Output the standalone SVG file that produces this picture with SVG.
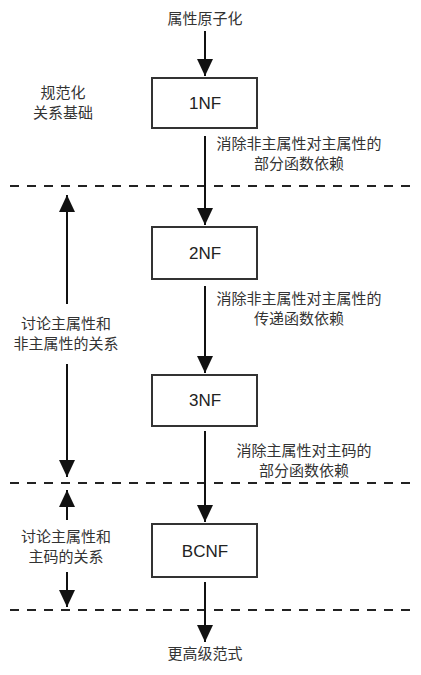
<svg xmlns="http://www.w3.org/2000/svg" width="421" height="675" viewBox="0 0 421 675">
<style>
.t{font-family:"Noto Sans CJK SC","Noto Sans",sans-serif;font-size:15px;fill:#333;text-anchor:middle}
.nf{font-family:"Liberation Sans","DejaVu Sans",sans-serif;font-size:17px;fill:#222;text-anchor:middle}
.box{fill:#fff;stroke:#333;stroke-width:2}
.ln{stroke:#111;stroke-width:2;fill:none}
.dash{stroke:#222;stroke-width:2;stroke-dasharray:9 8;fill:none}
</style>
<defs>
<marker id="ah" markerWidth="18" markerHeight="16" refX="17" refY="8" orient="auto-start-reverse" markerUnits="userSpaceOnUse" viewBox="0 0 18 16">
<path d="M0,0 L17,8 L0,16 Z" fill="#111"/>
</marker>
</defs>
<g id="dashes">
<line class="dash" x1="10" y1="186" x2="412" y2="186"/>
<line class="dash" x1="10" y1="483" x2="412" y2="483"/>
<line class="dash" x1="10" y1="610" x2="412" y2="610"/>
</g>
<g id="connectors">
<line class="ln" x1="205" y1="31" x2="205" y2="76" marker-end="url(#ah)"/>
<line class="ln" x1="205" y1="136" x2="205" y2="225" marker-end="url(#ah)"/>
<line class="ln" x1="205" y1="286" x2="205" y2="373" marker-end="url(#ah)"/>
<line class="ln" x1="205" y1="431" x2="205" y2="522" marker-end="url(#ah)"/>
<line class="ln" x1="205" y1="582" x2="205" y2="642" marker-end="url(#ah)"/>
<line class="ln" x1="67" y1="304" x2="67" y2="195" marker-end="url(#ah)"/>
<line class="ln" x1="67" y1="364" x2="67" y2="477" marker-end="url(#ah)"/>
<line class="ln" x1="67" y1="520" x2="67" y2="490" marker-end="url(#ah)"/>
<line class="ln" x1="67" y1="572" x2="67" y2="607" marker-end="url(#ah)"/>
</g>
<g id="start"><text class="t" x="205" y="24">属性原子化</text></g>
<g id="basis"><text class="t" x="63" y="98">规范化</text><text class="t" x="63" y="118">关系基础</text></g>
<g id="n1"><rect class="box" x="152" y="78" width="105" height="50"/><text class="nf" x="205" y="109">1NF</text></g>
<g id="n2"><rect class="box" x="152" y="227" width="105" height="52"/><text class="nf" x="205" y="259">2NF</text></g>
<g id="n3"><rect class="box" x="152" y="375" width="105" height="51"/><text class="nf" x="205" y="406">3NF</text></g>
<g id="n4"><rect class="box" x="152" y="524" width="105" height="53"/><text class="nf" x="205" y="557">BCNF</text></g>
<g id="end"><text class="t" x="205" y="659">更高级范式</text></g>
<g id="l1"><text class="t" x="299" y="149">消除非主属性对主属性的</text><text class="t" x="299" y="169">部分函数依赖</text></g>
<g id="l2"><text class="t" x="299" y="304">消除非主属性对主属性的</text><text class="t" x="299" y="324">传递函数依赖</text></g>
<g id="l3"><text class="t" x="304" y="456">消除主属性对主码的</text><text class="t" x="304" y="476">部分函数依赖</text></g>
<g id="side1"><text class="t" x="66" y="329">讨论主属性和</text><text class="t" x="66" y="349">非主属性的关系</text></g>
<g id="side2"><text class="t" x="66" y="542">讨论主属性和</text><text class="t" x="66" y="562">主码的关系</text></g>
</svg>
